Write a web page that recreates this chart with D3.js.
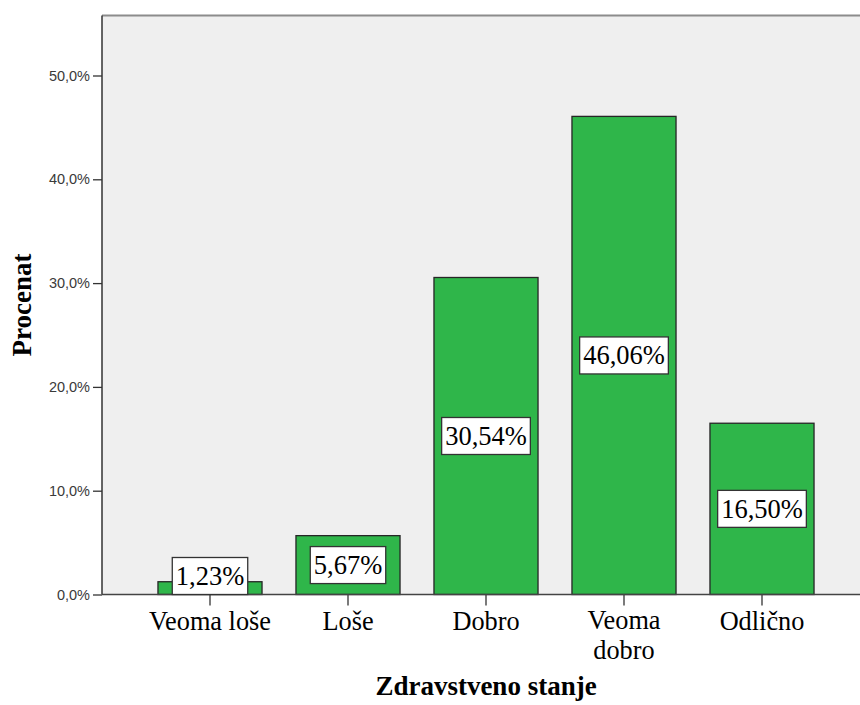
<!DOCTYPE html>
<html>
<head>
<meta charset="utf-8">
<script src="https://cdn.jsdelivr.net/npm/d3@7"></script>
<style>
  html, body { margin: 0; padding: 0; background: #fff; }
  svg { display: block; }
</style>
</head>
<body>
<svg id="chart" width="860" height="705"></svg>
<script>
// Health status distribution (percent of respondents)
const categories = ["Veoma loše", "Loše", "Dobro", "Veoma dobro", "Odlično"];
const categoryLines = [["Veoma loše"], ["Loše"], ["Dobro"], ["Veoma", "dobro"], ["Odlično"]];
const percents = [1.23, 5.67, 30.54, 46.06, 16.50];
const yTicks = [0, 10, 20, 30, 40, 50];

const svg = d3.select("#chart");

const plot = { left: 102, right: 870, top: 15.5, bottom: 594.5 };
const serif = "'Liberation Serif', 'Times New Roman', serif";

const x = d3.scaleBand()
  .domain(categories)
  .range([141, 831])
  .paddingInner(0.246)
  .paddingOuter(0.123);

const y = d3.scaleLinear()
  .domain([0, 55.78])
  .range([plot.bottom, plot.top]);

const comma = s => s.replace(".", ",");
const fmtTick = d => comma(d3.format(".1f")(d)) + "%";
const fmtVal = d => comma(d3.format(".2f")(d)) + "%";

// plot background
svg.append("rect")
  .attr("x", plot.left).attr("y", plot.top)
  .attr("width", plot.right - plot.left).attr("height", plot.bottom - plot.top)
  .attr("fill", "#efefef");

// top frame line
svg.append("line")
  .attr("x1", plot.left).attr("x2", plot.right)
  .attr("y1", plot.top).attr("y2", plot.top)
  .attr("stroke", "#8c8c8c").attr("stroke-width", 2);

// bars
svg.append("g").selectAll("rect")
  .data(percents)
  .join("rect")
  .attr("x", (d, i) => x(categories[i]))
  .attr("y", d => y(d))
  .attr("width", x.bandwidth())
  .attr("height", d => y(0) - y(d))
  .attr("fill", "#2fb64a")
  .attr("stroke", "#262626")
  .attr("stroke-width", 1.3);

// y axis
const yAxis = svg.append("g")
  .attr("transform", `translate(${plot.left},0)`)
  .call(d3.axisLeft(y).tickValues(yTicks).tickFormat(fmtTick).tickSize(9).tickPadding(3).tickSizeOuter(0));
yAxis.select(".domain").remove();
yAxis.selectAll(".tick line").attr("stroke", "#333").attr("stroke-width", 1.3);
yAxis.selectAll(".tick text")
  .attr("font-family", "'Liberation Sans', Arial, sans-serif")
  .attr("font-size", 14.5)
  .attr("fill", "#3a3a3a");

svg.append("line")
  .attr("x1", plot.left).attr("x2", plot.left)
  .attr("y1", plot.top).attr("y2", plot.bottom)
  .attr("stroke", "#333").attr("stroke-width", 1.5);

// x axis
const xAxis = svg.append("g")
  .attr("transform", `translate(0,${plot.bottom})`)
  .call(d3.axisBottom(x).tickSize(11).tickFormat(""));
xAxis.select(".domain").remove();
xAxis.selectAll(".tick line").attr("stroke", "#333").attr("stroke-width", 1.3);

svg.append("line")
  .attr("x1", plot.left).attr("x2", plot.right)
  .attr("y1", plot.bottom).attr("y2", plot.bottom)
  .attr("stroke", "#444").attr("stroke-width", 1.6);

// category labels (multi-line where wrapped)
const catText = svg.append("g").selectAll("text")
  .data(categories)
  .join("text")
  .attr("x", d => x(d) + x.bandwidth() / 2)
  .attr("y", (d, i) => categoryLines[i].length > 1 ? 629 : 630)
  .attr("text-anchor", "middle")
  .attr("font-family", serif)
  .attr("font-size", 26.3)
  .attr("fill", "#000");
catText.each(function(d, i) {
  const t = d3.select(this);
  categoryLines[i].forEach((line, k) => {
    t.append("tspan")
      .attr("x", x(d) + x.bandwidth() / 2)
      .attr("dy", k === 0 ? 0 : 29.5)
      .text(line);
  });
});

// value labels in white boxes
const boxH = 37;
const labels = svg.append("g").selectAll("g")
  .data(percents)
  .join("g")
  .attr("transform", (d, i) => {
    const cx = x(categories[i]) + x.bandwidth() / 2;
    const cy = Math.min((y(d) + y(0)) / 2, y(0) - boxH / 2);
    return `translate(${cx},${cy})`;
  });

labels.append("text")
  .attr("text-anchor", "middle")
  .attr("dy", "0.34em")
  .attr("font-family", serif)
  .attr("font-size", 26.5)
  .attr("fill", "#000")
  .text(d => fmtVal(d));

labels.each(function() {
  const g = d3.select(this);
  const w = g.select("text").node().getComputedTextLength() + 7;
  g.insert("rect", "text")
    .attr("x", -w / 2).attr("y", -boxH / 2)
    .attr("width", w).attr("height", boxH)
    .attr("fill", "#fff")
    .attr("stroke", "#333")
    .attr("stroke-width", 1.3);
});

// axis titles
svg.append("text")
  .attr("x", 486).attr("y", 695)
  .attr("text-anchor", "middle")
  .attr("font-family", serif)
  .attr("font-weight", "bold")
  .attr("font-size", 27)
  .attr("fill", "#000")
  .text("Zdravstveno stanje");

svg.append("text")
  .attr("transform", "translate(31,305) rotate(-90)")
  .attr("text-anchor", "middle")
  .attr("font-family", serif)
  .attr("font-weight", "bold")
  .attr("font-size", 27)
  .attr("fill", "#000")
  .text("Procenat");
</script>
</body>
</html>
